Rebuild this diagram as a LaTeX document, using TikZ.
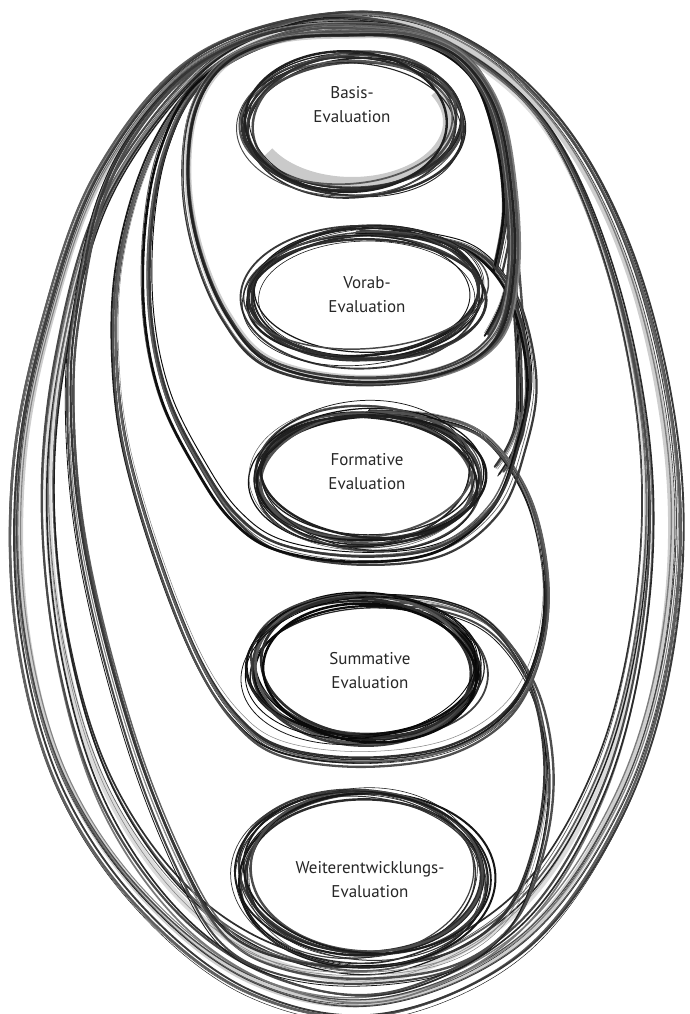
\documentclass[tikz,border=0pt]{standalone}
\usepackage{fontspec}
\setmainfont{PT Sans}
\usetikzlibrary{calc}

\tikzset{
  strand/.style={line cap=round, line join=round},
  haze/.style={line width=7pt, draw=black!35, opacity=0.55},
  evaltext/.style={align=center, font=\fontsize{17}{24}\selectfont, text=black!85}
}

% one ring of pencil strokes round a centre
\newcommand{\evalring}[4]{% centre, x radius, y radius, strokes
  \foreach \k in {1,...,#4}{
    \pgfmathsetmacro{\rgdx}{6*rand}
    \pgfmathsetmacro{\rgdy}{5*rand}
    \pgfmathsetmacro{\rgra}{#2+8*rand}
    \pgfmathsetmacro{\rgrb}{#3+7*rand}
    \pgfmathsetmacro{\rgang}{7*rand}
    \pgfmathsetmacro{\rglw}{0.4+2.4*rnd}
    \pgfmathsetmacro{\rgsh}{65+33*rnd}
    \draw[strand, line width=\rglw pt, draw=black!\rgsh, rotate around={\rgang:(#1)}]
      ($(#1)+(\rgdx,\rgdy)$) ellipse [x radius=\rgra pt, y radius=\rgrb pt];
  }
}

% pencil strokes through given points (closed or open), fanned out from a centre
\newcommand{\sketchloop}[6]{% strokes, spread, centre x, centre y, plot kind, points
  \foreach \k in {1,...,#1}{
    \pgfmathsetmacro{\lpdx}{4*rand}
    \pgfmathsetmacro{\lpdy}{3*rand}
    \pgfmathsetmacro{\lpsc}{1+#2*rand}
    \pgfmathsetmacro{\lpxs}{#3*(1-\lpsc)+\lpdx}
    \pgfmathsetmacro{\lpys}{#4*(1-\lpsc)+\lpdy}
    \pgfmathsetmacro{\lplw}{0.4+2.2*rnd}
    \pgfmathsetmacro{\lpsh}{45+53*rnd}
    \draw[strand, line width=\lplw pt, draw=black!\lpsh,
          shift={(\lpxs,\lpys)}, scale=\lpsc]
      plot[#5, tension=0.6] coordinates {#6};
  }
}

\begin{document}
\begin{tikzpicture}[x=1pt, y=-1pt]
\pgfmathsetseed{4711}
\useasboundingbox (0,0) rectangle (689,1014);

% Mittelpunkte der Ringe
\coordinate (basisring) at (350,122);
\coordinate (vorabring) at (364,295);
\coordinate (formring) at (367,478);
\coordinate (summring) at (365,668);
\coordinate (weiterring) at (362,876);

% grosse Schleifen aussen
\draw[haze] plot[smooth cycle, tension=0.6] coordinates {(350,18) (468,48) (566,142) (635,290) (670,480) (660,660) (611,813) (518,941) (380,1002) (252,981) (144,897) (65,778) (26,630) (22,470) (50,320) (104,172) (202,59)};
\sketchloop{10}{0.012}{350}{30}{smooth cycle}{(350,14) (470,45) (570,140) (640,290) (676,480) (665,660) (615,815) (520,945) (380,1007) (250,985) (140,900) (60,780) (20,630) (16,470) (45,320) (100,170) (200,55)}
\draw[haze, draw=black!25] plot[smooth cycle, tension=0.6] coordinates {(350,20) (450,47) (545,127) (610,272) (645,450) (640,620) (600,780) (520,908) (400,976) (290,968) (190,908) (110,798) (65,660) (48,500) (62,350) (105,202) (190,82) (270,32)};
\sketchloop{8}{0.02}{350}{30}{smooth cycle}{(350,18) (450,45) (545,125) (610,270) (645,450) (640,620) (600,780) (520,910) (400,978) (290,970) (190,910) (110,800) (65,660) (48,500) (62,350) (105,200) (190,80) (270,30)}

% Schleifen von Stufe zu Stufe
\sketchloop{8}{0.012}{350}{40}{smooth}{(370,600) (440,605) (495,630) (535,690) (550,770) (540,850) (510,920) (450,962) (360,975) (280,965) (225,935) (185,870) (140,760) (100,620) (78,500) (72,380) (82,290) (102,200) (137,130) (192,70) (262,35) (340,24) (420,32) (475,70) (505,150) (515,260) (522,360) (520,430) (500,470)}
\sketchloop{8}{0.015}{350}{40}{smooth}{(370,412) (440,418) (490,440) (530,500) (547,580) (540,650) (510,710) (450,748) (365,760) (285,750) (240,720) (200,660) (160,560) (128,450) (117,360) (120,270) (142,180) (177,110) (227,60) (292,33) (350,28) (430,38) (480,75) (505,150) (513,250) (505,300) (488,335)}
\sketchloop{8}{0.018}{350}{40}{smooth}{(360,232) (430,238) (480,255) (515,300) (532,380) (520,450) (495,510) (440,552) (360,562) (280,550) (235,520) (200,470) (165,400) (148,320) (148,230) (163,150) (197,85) (262,45) (340,32) (420,40) (475,75) (500,140) (508,210) (498,270)}
\draw[haze] plot[smooth cycle, tension=0.6] coordinates {(350,35) (280,40) (225,64) (195,112) (188,180) (200,250) (228,315) (270,360) (350,378) (440,370) (495,335) (512,270) (510,190) (495,110) (460,60) (410,38)};
\sketchloop{8}{0.02}{350}{40}{smooth cycle}{(350,33) (280,38) (225,62) (195,110) (188,180) (200,250) (228,315) (270,360) (350,378) (440,370) (495,335) (512,270) (510,190) (495,110) (460,58) (410,36)}

% Ringe
\draw[haze, line width=12pt, opacity=0.6] ($(basisring)+({2+97*cos(30)},{-61*sin(30)})$)
  arc [start angle=30, end angle=-150, x radius=97pt, y radius=61pt];
\evalring{basisring}{105}{68}{12}
\evalring{vorabring}{115}{65}{12}
\evalring{formring}{112}{66}{14}
\evalring{summring}{112}{70}{13}
\evalring{weiterring}{122}{82}{14}

% Beschriftungen
\node[evaltext] (basis) at (352,105) {Basis-\\Evaluation};
\node[evaltext] (vorab) at (367,295) {Vorab-\\Evaluation};
\node[evaltext] (formativ) at (367,472) {Formative\\Evaluation};
\node[evaltext] (summativ) at (370,671) {Summative\\Evaluation};
\node[evaltext] (weiter) at (370,880) {Weiterentwicklungs-\\Evaluation};

\end{tikzpicture}
\end{document}
